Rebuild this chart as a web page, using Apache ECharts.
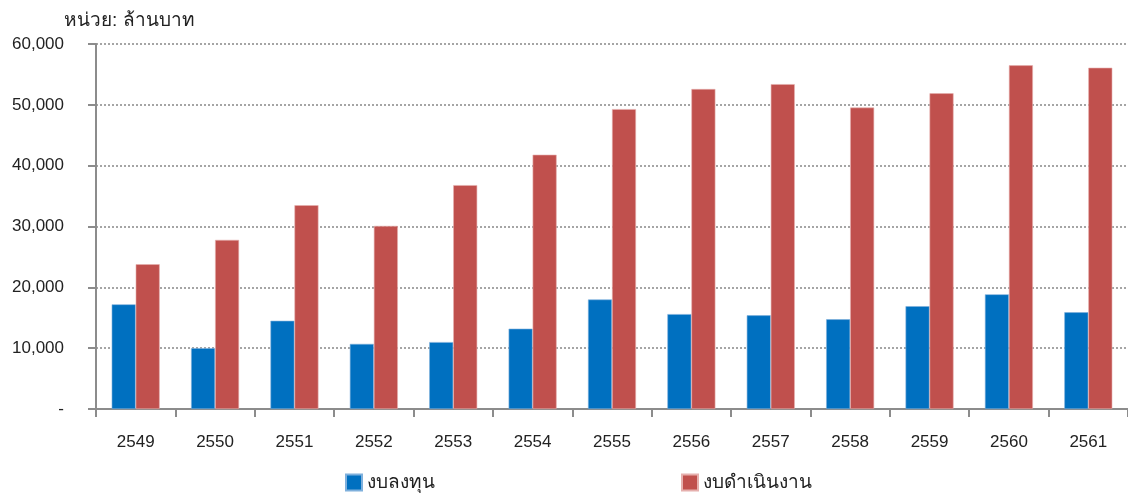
<!DOCTYPE html>
<html><head><meta charset="utf-8">
<script src="https://cdn.jsdelivr.net/npm/echarts@6/dist/echarts.min.js"></script>
<style>html,body{margin:0;padding:0;background:#fff}#c{width:1128px;height:493px}</style>
</head><body><div id="c"></div>
<script>
const categories = ['2549','2550','2551','2552','2553','2554','2555','2556','2557','2558','2559','2560','2561'];
const investment = [17200, 10000, 14500, 10700, 11000, 13200, 18000, 15600, 15400, 14750, 16900, 18850, 15900];
const operating = [23800, 27800, 33500, 30100, 36800, 41800, 49300, 52600, 53400, 49550, 51900, 56500, 56100];
const seriesNames = ['งบลงทุน', 'งบดำเนินงาน'];
const unitTitle = 'หน่วย: ล้านบาท';

const font = '"Liberation Sans", "Noto Sans", "DejaVu Sans", sans-serif';
const chart = echarts.init(document.getElementById('c'));
chart.setOption({
  animation: false,
  textStyle: { fontFamily: font },
  title: { text: unitTitle, left: 59, top: 6, textStyle: { fontSize: 19, fontWeight: 'normal', color: '#222', fontFamily: font } },
  legend: [
    { data: [seriesNames[0]], left: 340, top: 468, itemWidth: 16, itemHeight: 16, itemGap: 6, icon: 'rect', textStyle: { fontSize: 19, color: '#222' } },
    { data: [seriesNames[1]], left: 676, top: 468, itemWidth: 16, itemHeight: 16, itemGap: 6, icon: 'rect', textStyle: { fontSize: 19, color: '#222' } }
  ],
  grid: { left: 96, right: -4, top: 44, bottom: 84, containLabel: false },
  xAxis: {
    type: 'category', data: categories,
    axisLine: { lineStyle: { color: '#8c8c8c', width: 2 } },
    axisTick: { show: true, length: 8, lineStyle: { color: '#8c8c8c', width: 2 } },
    axisLabel: { fontSize: 17, color: '#222', margin: 25 }
  },
  yAxis: {
    type: 'value', min: 0, max: 60000, interval: 10000,
    axisLine: { show: true, lineStyle: { color: '#8c8c8c', width: 2 } },
    axisTick: { show: true, length: 8, lineStyle: { color: '#8c8c8c', width: 2 } },
    axisLabel: { fontSize: 17, color: '#222', margin: 32, formatter: v => v === 0 ? '-' : v.toLocaleString('en-US') },
    splitLine: { show: true, lineStyle: { color: '#888', type: [2, 2], width: 1.5 } }
  },
  series: [
    { name: seriesNames[0], type: 'bar', data: investment, barWidth: 24, barGap: '0%', itemStyle: { color: '#0070C0', borderColor: '#7fb0dc', borderWidth: 0.6 } },
    { name: seriesNames[1], type: 'bar', data: operating, barWidth: 24, barGap: '0%', itemStyle: { color: '#C0504D', borderColor: '#e6b0ae', borderWidth: 0.6 } }
  ]
});
</script></body></html>
